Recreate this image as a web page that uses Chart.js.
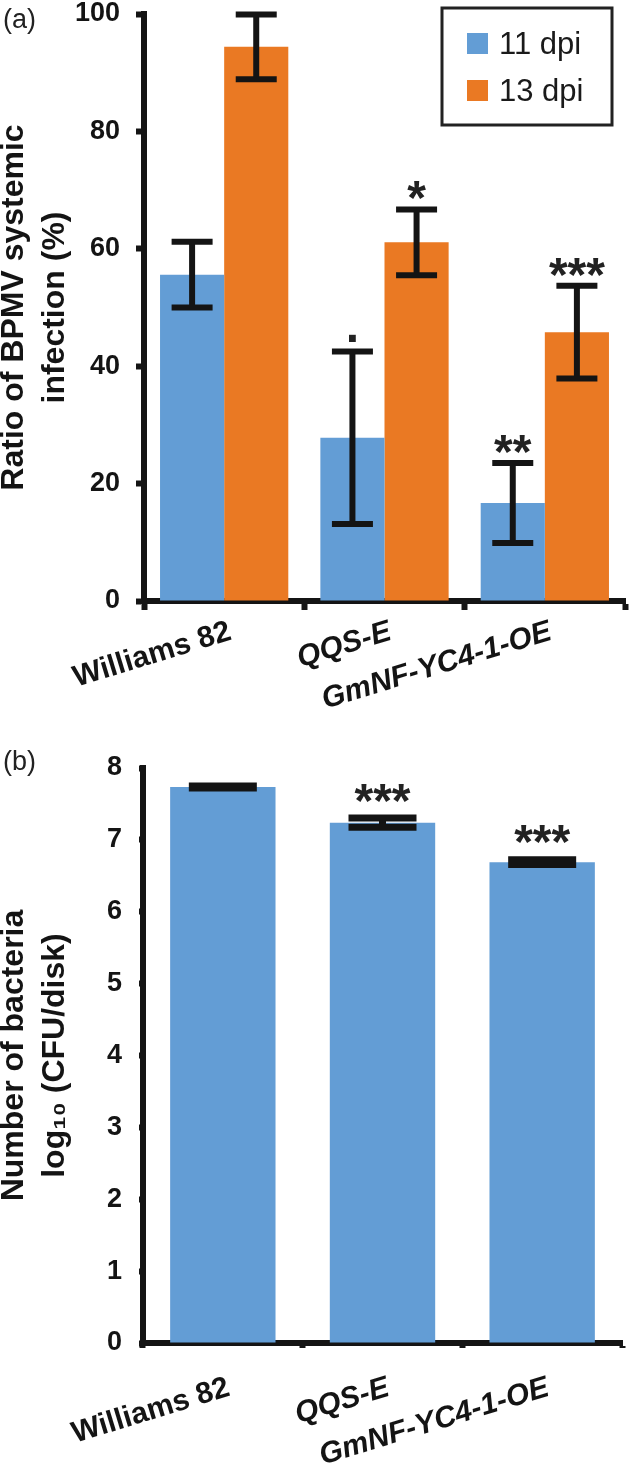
<!DOCTYPE html>
<html>
<head>
<meta charset="utf-8">
<script src="https://cdn.jsdelivr.net/npm/chart.js@4.4.1/dist/chart.umd.min.js"></script>
<style>
  body { margin: 0; background: #fff; width: 630px; height: 1470px; position: relative; overflow: hidden;
         font-family: "Liberation Sans", Arial, sans-serif; }
  .panel { position: absolute; left: 0; width: 630px; }
  #wrapA { top: 0; height: 720px; }
  #wrapB { top: 720px; height: 750px; }
  .tag { position: absolute; left: 3px; font-size: 27px; color: #222; }
</style>
</head>
<body>
<div class="panel" id="wrapA"><canvas id="chartA" width="630" height="720"></canvas></div>
<div class="panel" id="wrapB"><canvas id="chartB" width="630" height="750"></canvas></div>
<div class="tag" style="top:4px">(a)</div>
<div class="tag" style="top:746px">(b)</div>
<script>
// soybean lines
const lines = ['Williams 82', 'QQS-E', 'GmNF-YC4-1-OE'];

// (a) BPMV systemic infection, %
const seriesA = ['11 dpi', '13 dpi'];
const dpi11 = [55.6, 27.8, 16.7];
const dpi11Err = [5.6, 14.7, 6.8];
const dpi11Sig = ['', '.', '**'];
const dpi13 = [94.4, 61.1, 45.8];
const dpi13Err = [5.5, 5.6, 7.9];
const dpi13Sig = ['', '*', '***'];
const ticksA = [0, 20, 40, 60, 80, 100];

// (b) bacteria, log10 CFU/disk
const bacteria = [7.735, 7.24, 6.69];
const bacteriaErr = [0.014, 0.063, 0.032];
const bacteriaSig = ['', '***', '***'];
const ticksB = [0, 1, 2, 3, 4, 5, 6, 7, 8];

const BLUE = '#639dd5';
const ORANGE = '#ea7923';
const INK = '#141414';
const FONT = '"Liberation Sans", Arial, sans-serif';

Chart.defaults.font.family = FONT;
Chart.defaults.color = INK;
Chart.defaults.animation = false;

// error bars + significance marks drawn from dataset values
const errorBars = {
  id: 'errorBars',
  afterDatasetsDraw(chart, args, o) {
    const ctx = chart.ctx, y = chart.scales.y;
    chart.data.datasets.forEach((ds, di) => {
      const meta = chart.getDatasetMeta(di);
      meta.data.forEach((bar, i) => {
        const v = ds.data[i], e = ds.errors[i];
        const top = y.getPixelForValue(v + e), bot = y.getPixelForValue(v - e);
        ctx.save();
        ctx.strokeStyle = INK;
        ctx.lineWidth = o.width;
        ctx.beginPath();
        ctx.moveTo(bar.x, top); ctx.lineTo(bar.x, bot);
        ctx.moveTo(bar.x - o.cap / 2, top); ctx.lineTo(bar.x + o.cap / 2, top);
        ctx.moveTo(bar.x - o.cap / 2, bot); ctx.lineTo(bar.x + o.cap / 2, bot);
        ctx.stroke();
        const mark = ds.marks[i];
        if (mark) {
          ctx.font = o.markFont;
          ctx.fillStyle = '#222';
          ctx.textAlign = 'center';
          ctx.textBaseline = 'alphabetic';
          const m = ctx.measureText(mark);
          ctx.fillText(mark, bar.x, top - o.width / 2 - o.gap - m.actualBoundingBoxDescent);
        }
        ctx.restore();
      });
    });
  }
};

// framed legend inside the plot
const boxLegend = {
  id: 'boxLegend',
  afterDraw(chart, args, o) {
    if (!o.show) return;
    const ctx = chart.ctx;
    ctx.save();
    ctx.lineWidth = 3;
    ctx.strokeStyle = '#222';
    ctx.strokeRect(o.x, o.y, o.w, o.h);
    chart.data.datasets.forEach((ds, i) => {
      const yy = o.y + o.first + i * o.step;
      ctx.fillStyle = ds.backgroundColor;
      ctx.fillRect(o.x + 25, yy - 11, 21, 21);
      ctx.fillStyle = '#1a1a1a';
      ctx.font = '31px ' + FONT;
      ctx.textBaseline = 'middle';
      ctx.fillText(ds.label, o.x + 57, yy + 1);
    });
    ctx.restore();
  }
};

function xAxis(height, tickLen, pad) {
  return {
    afterFit(s) { s.height = height; },
    border: { display: true, color: INK, width: 6 },
    grid: { drawOnChartArea: false, drawTicks: true, tickLength: tickLen, tickWidth: 6, tickColor: INK },
    ticks: {
      minRotation: 17, maxRotation: 17, padding: pad, labelOffset: 6, color: INK,
      font: (c) => ({ family: FONT, size: 30, weight: 'bold', style: c.index === 0 ? 'normal' : 'italic' })
    }
  };
}

function yAxis(width, max, step, tickLen, pad, title) {
  return {
    min: 0, max: max,
    afterFit(s) { s.width = width; s.paddingTop = 0; s.paddingBottom = 0; },
    border: { display: true, color: INK, width: 6 },
    grid: { drawOnChartArea: false, drawTicks: true, tickLength: tickLen, tickWidth: 6, tickColor: INK },
    ticks: { stepSize: step, padding: pad, color: INK, font: { size: 27, weight: 'bold' } },
    title: { display: true, text: title, color: INK, padding: { top: -6, bottom: 0 },
             font: { size: 32, weight: 'bold', lineHeight: 1.28 } }
  };
}

new Chart(document.getElementById('chartA'), {
  type: 'bar',
  data: {
    labels: lines,
    datasets: [
      { label: seriesA[0], data: dpi11, errors: dpi11Err, marks: dpi11Sig, backgroundColor: BLUE },
      { label: seriesA[1], data: dpi13, errors: dpi13Err, marks: dpi13Sig, backgroundColor: ORANGE }
    ]
  },
  options: {
    responsive: false,
    layout: { padding: { top: 14, right: 5, bottom: 0, left: 0 } },
    datasets: { bar: { categoryPercentage: 0.8, barPercentage: 1.0 } },
    plugins: {
      legend: { display: false },
      tooltip: { enabled: false },
      errorBars: { width: 6, cap: 41, gap: 7, markFont: 'bold 48px ' + FONT },
      boxLegend: { show: true, x: 442, y: 8, w: 170, h: 117, first: 36, step: 47 }
    },
    scales: {
      x: xAxis(119, 9, 4),
      y: yAxis(144, ticksA[ticksA.length - 1], ticksA[1] - ticksA[0], 8, 16,
               ['Ratio of BPMV systemic', 'infection (%)'])
    }
  },
  plugins: [errorBars, boxLegend]
});

new Chart(document.getElementById('chartB'), {
  type: 'bar',
  data: {
    labels: lines,
    datasets: [
      { label: 'bacteria', data: bacteria, errors: bacteriaErr, marks: bacteriaSig, backgroundColor: BLUE }
    ]
  },
  options: {
    responsive: false,
    layout: { padding: { top: 48, right: 8, bottom: 0, left: 0 } },
    datasets: { bar: { categoryPercentage: 0.66, barPercentage: 1.0 } },
    plugins: {
      legend: { display: false },
      tooltip: { enabled: false },
      errorBars: { width: 7, cap: 68, gap: 13, markFont: 'bold 48px ' + FONT },
      boxLegend: { show: false }
    },
    scales: {
      x: xAxis(127, 5, 22),
      y: yAxis(143, ticksB[ticksB.length - 1], ticksB[1] - ticksB[0], 4, 17,
               ['Number of bacteria', 'log\u2081\u2080 (CFU/disk)'])
    }
  },
  plugins: [errorBars, boxLegend]
});
</script>
</body>
</html>
